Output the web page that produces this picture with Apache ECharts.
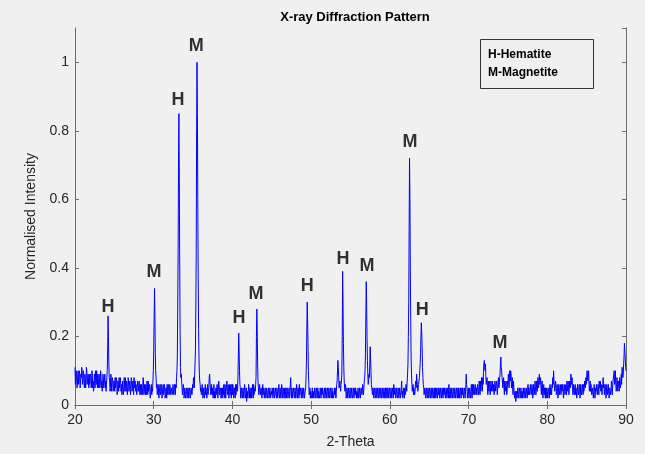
<!DOCTYPE html>
<html>
<head>
<meta charset="utf-8">
<script src="https://cdn.jsdelivr.net/npm/echarts@6/dist/echarts.min.js"></script>
<style>
  html, body { margin: 0; padding: 0; background: #f0f0f0; }
  #chart { width: 645px; height: 454px; }
</style>
</head>
<body>
<div id="chart"></div>
<script>
// scan start / step (degrees 2-theta)
const thetaStart = 20
const thetaStep = 0.1

// normalised intensity at x.0, x.1 ... x.9 (one row per degree)
const intensity = [
  0.11, 0.08, 0.09, 0.06, 0.10, 0.07, 0.09, 0.06, 0.08, 0.10, // 20
  0.07, 0.09, 0.05, 0.08, 0.07, 0.10, 0.06, 0.08, 0.09, 0.06, // 21
  0.08, 0.06, 0.09, 0.07, 0.05, 0.08, 0.10, 0.06, 0.07, 0.09, // 22
  0.05, 0.08, 0.06, 0.09, 0.07, 0.05, 0.08, 0.06, 0.09, 0.07, // 23
  0.06, 0.10, 0.26, 0.12, 0.07, 0.05, 0.08, 0.06, 0.07, 0.05, // 24
  0.06, 0.08, 0.05, 0.07, 0.04, 0.06, 0.08, 0.05, 0.07, 0.06, // 25
  0.04, 0.07, 0.05, 0.06, 0.08, 0.04, 0.06, 0.05, 0.07, 0.04, // 26
  0.06, 0.05, 0.07, 0.04, 0.06, 0.08, 0.05, 0.04, 0.06, 0.05, // 27
  0.07, 0.04, 0.05, 0.06, 0.03, 0.06, 0.05, 0.07, 0.04, 0.05, // 28
  0.06, 0.04, 0.05, 0.07, 0.04, 0.05, 0.03, 0.06, 0.05, 0.07, // 29
  0.16, 0.34, 0.15, 0.08, 0.06, 0.04, 0.05, 0.03, 0.06, 0.04, // 30
  0.05, 0.03, 0.06, 0.04, 0.05, 0.03, 0.04, 0.06, 0.03, 0.05, // 31
  0.04, 0.06, 0.03, 0.05, 0.04, 0.06, 0.04, 0.05, 0.06, 0.08, // 32
  0.14, 0.45, 0.85, 0.42, 0.11, 0.09, 0.05, 0.04, 0.05, 0.03, // 33
  0.04, 0.02, 0.05, 0.03, 0.04, 0.02, 0.04, 0.03, 0.05, 0.04, // 34
  0.05, 0.07, 0.09, 0.16, 0.45, 1.00, 0.60, 0.22, 0.09, 0.06, // 35
  0.05, 0.04, 0.06, 0.03, 0.05, 0.04, 0.03, 0.05, 0.04, 0.03, // 36
  0.05, 0.09, 0.05, 0.04, 0.03, 0.05, 0.04, 0.02, 0.04, 0.05, // 37
  0.03, 0.05, 0.04, 0.06, 0.03, 0.04, 0.05, 0.02, 0.04, 0.06, // 38
  0.03, 0.05, 0.04, 0.07, 0.03, 0.05, 0.04, 0.03, 0.06, 0.04, // 39
  0.03, 0.05, 0.03, 0.04, 0.06, 0.03, 0.05, 0.08, 0.21, 0.10, // 40
  0.05, 0.03, 0.04, 0.02, 0.05, 0.04, 0.06, 0.03, 0.01, 0.04, // 41
  0.03, 0.05, 0.04, 0.02, 0.05, 0.03, 0.04, 0.06, 0.03, 0.04, // 42
  0.08, 0.28, 0.12, 0.05, 0.04, 0.06, 0.03, 0.05, 0.04, 0.03, // 43
  0.04, 0.02, 0.05, 0.03, 0.04, 0.02, 0.05, 0.03, 0.04, 0.02, // 44
  0.03, 0.05, 0.02, 0.04, 0.03, 0.05, 0.02, 0.04, 0.03, 0.06, // 45
  0.02, 0.04, 0.03, 0.05, 0.02, 0.04, 0.03, 0.02, 0.05, 0.03, // 46
  0.04, 0.02, 0.05, 0.03, 0.08, 0.02, 0.04, 0.03, 0.05, 0.02, // 47
  0.04, 0.03, 0.05, 0.02, 0.04, 0.06, 0.03, 0.04, 0.02, 0.05, // 48
  0.03, 0.04, 0.02, 0.05, 0.12, 0.30, 0.18, 0.06, 0.04, 0.02, // 49
  0.04, 0.03, 0.02, 0.04, 0.03, 0.05, 0.02, 0.04, 0.03, 0.02, // 50
  0.04, 0.03, 0.05, 0.02, 0.03, 0.04, 0.02, 0.05, 0.03, 0.04, // 51
  0.02, 0.04, 0.03, 0.05, 0.02, 0.04, 0.03, 0.02, 0.04, 0.03, // 52
  0.03, 0.05, 0.04, 0.07, 0.13, 0.08, 0.06, 0.05, 0.06, 0.09, // 53
  0.39, 0.18, 0.07, 0.04, 0.05, 0.03, 0.04, 0.02, 0.05, 0.03, // 54
  0.04, 0.02, 0.05, 0.03, 0.04, 0.02, 0.03, 0.05, 0.04, 0.03, // 55
  0.05, 0.03, 0.04, 0.02, 0.05, 0.04, 0.06, 0.05, 0.08, 0.15, // 56
  0.36, 0.20, 0.09, 0.07, 0.08, 0.17, 0.10, 0.05, 0.03, 0.04, // 57
  0.02, 0.04, 0.03, 0.05, 0.02, 0.04, 0.03, 0.05, 0.02, 0.04, // 58
  0.03, 0.05, 0.02, 0.04, 0.03, 0.02, 0.05, 0.03, 0.04, 0.02, // 59
  0.04, 0.03, 0.05, 0.02, 0.04, 0.06, 0.03, 0.04, 0.02, 0.05, // 60
  0.03, 0.04, 0.02, 0.05, 0.03, 0.07, 0.04, 0.02, 0.04, 0.05, // 61
  0.04, 0.05, 0.07, 0.12, 0.30, 0.72, 0.40, 0.14, 0.06, 0.04, // 62
  0.03, 0.05, 0.04, 0.07, 0.09, 0.06, 0.05, 0.07, 0.10, 0.15, // 63
  0.24, 0.17, 0.08, 0.05, 0.03, 0.04, 0.02, 0.05, 0.03, 0.04, // 64
  0.02, 0.04, 0.03, 0.05, 0.02, 0.04, 0.03, 0.02, 0.05, 0.03, // 65
  0.04, 0.02, 0.03, 0.05, 0.02, 0.04, 0.03, 0.05, 0.02, 0.03, // 66
  0.04, 0.02, 0.05, 0.03, 0.04, 0.06, 0.02, 0.04, 0.03, 0.05, // 67
  0.02, 0.04, 0.03, 0.05, 0.02, 0.04, 0.03, 0.02, 0.04, 0.03, // 68
  0.04, 0.02, 0.03, 0.05, 0.02, 0.04, 0.03, 0.09, 0.05, 0.03, // 69
  0.04, 0.02, 0.05, 0.03, 0.04, 0.06, 0.03, 0.05, 0.04, 0.06, // 70
  0.05, 0.03, 0.06, 0.04, 0.05, 0.07, 0.05, 0.06, 0.08, 0.10, // 71
  0.13, 0.10, 0.08, 0.06, 0.05, 0.07, 0.04, 0.06, 0.05, 0.07, // 72
  0.05, 0.04, 0.06, 0.05, 0.07, 0.04, 0.06, 0.05, 0.08, 0.06, // 73
  0.09, 0.14, 0.10, 0.07, 0.06, 0.05, 0.07, 0.05, 0.06, 0.04, // 74
  0.06, 0.08, 0.10, 0.07, 0.09, 0.06, 0.05, 0.07, 0.04, 0.03, // 75
  0.01, 0.04, 0.03, 0.05, 0.02, 0.04, 0.03, 0.05, 0.04, 0.03, // 76
  0.05, 0.03, 0.04, 0.02, 0.05, 0.04, 0.03, 0.05, 0.04, 0.06, // 77
  0.04, 0.05, 0.03, 0.06, 0.05, 0.07, 0.04, 0.06, 0.08, 0.05, // 78
  0.09, 0.07, 0.05, 0.06, 0.04, 0.05, 0.03, 0.04, 0.05, 0.03, // 79
  0.04, 0.02, 0.05, 0.04, 0.03, 0.05, 0.06, 0.08, 0.10, 0.07, // 80
  0.05, 0.06, 0.04, 0.05, 0.03, 0.05, 0.04, 0.06, 0.05, 0.04, // 81
  0.05, 0.03, 0.06, 0.04, 0.05, 0.07, 0.04, 0.06, 0.05, 0.07, // 82
  0.09, 0.06, 0.05, 0.04, 0.06, 0.05, 0.03, 0.05, 0.04, 0.06, // 83
  0.04, 0.05, 0.03, 0.06, 0.04, 0.05, 0.06, 0.05, 0.07, 0.08, // 84
  0.08, 0.10, 0.08, 0.06, 0.05, 0.04, 0.06, 0.03, 0.05, 0.04, // 85
  0.05, 0.03, 0.04, 0.06, 0.04, 0.05, 0.07, 0.05, 0.04, 0.06, // 86
  0.05, 0.08, 0.06, 0.04, 0.05, 0.03, 0.05, 0.04, 0.06, 0.03, // 87
  0.05, 0.04, 0.06, 0.05, 0.07, 0.10, 0.08, 0.06, 0.05, 0.07, // 88
  0.04, 0.06, 0.08, 0.05, 0.09, 0.11, 0.08, 0.12, 0.18, 0.14, // 89
  0.10                                                        // 90
]

// normalised intensity at the half steps x.05, x.15 ... x.95
const intensityHalf = [
  0.06, 0.10, 0.05, 0.09, 0.06, 0.10, 0.05, 0.09, 0.11, 0.06, // 20
  0.10, 0.06, 0.09, 0.05, 0.11, 0.06, 0.09, 0.05, 0.06, 0.09, // 21
  0.05, 0.10, 0.05, 0.04, 0.09, 0.05, 0.07, 0.10, 0.05, 0.06, // 22
  0.09, 0.05, 0.10, 0.05, 0.04, 0.09, 0.05, 0.08, 0.05, 0.04, // 23
  0.08, 0.17, 0.20, 0.08, 0.04, 0.09, 0.04, 0.08, 0.04, 0.07, // 24
  0.04, 0.05, 0.08, 0.03, 0.07, 0.04, 0.05, 0.08, 0.04, 0.03, // 25
  0.07, 0.03, 0.08, 0.04, 0.05, 0.07, 0.03, 0.08, 0.04, 0.07, // 26
  0.03, 0.08, 0.04, 0.07, 0.03, 0.05, 0.07, 0.06, 0.03, 0.07, // 27
  0.04, 0.07, 0.03, 0.04, 0.06, 0.03, 0.08, 0.03, 0.06, 0.03, // 28
  0.03, 0.07, 0.03, 0.04, 0.06, 0.02, 0.05, 0.03, 0.04, 0.10, // 29
  0.25, 0.27, 0.10, 0.05, 0.03, 0.06, 0.02, 0.05, 0.03, 0.06, // 30
  0.02, 0.05, 0.03, 0.06, 0.02, 0.05, 0.02, 0.04, 0.06, 0.03, // 31
  0.06, 0.03, 0.05, 0.03, 0.06, 0.03, 0.06, 0.03, 0.05, 0.10, // 32
  0.28, 0.70, 0.68, 0.22, 0.08, 0.07, 0.03, 0.06, 0.02, 0.05, // 33
  0.02, 0.04, 0.02, 0.05, 0.02, 0.05, 0.02, 0.05, 0.03, 0.06, // 34
  0.08, 0.05, 0.12, 0.28, 0.80, 0.85, 0.38, 0.14, 0.07, 0.04, // 35
  0.03, 0.06, 0.02, 0.05, 0.02, 0.06, 0.05, 0.02, 0.06, 0.04, // 36
  0.08, 0.07, 0.03, 0.06, 0.05, 0.02, 0.06, 0.04, 0.02, 0.03, // 37
  0.06, 0.02, 0.07, 0.03, 0.05, 0.02, 0.03, 0.05, 0.03, 0.02, // 38
  0.06, 0.02, 0.06, 0.04, 0.06, 0.02, 0.06, 0.05, 0.02, 0.06, // 39
  0.06, 0.02, 0.05, 0.02, 0.03, 0.06, 0.04, 0.14, 0.16, 0.06, // 40
  0.02, 0.05, 0.02, 0.05, 0.02, 0.06, 0.02, 0.05, 0.03, 0.02, // 41
  0.06, 0.02, 0.05, 0.04, 0.02, 0.06, 0.02, 0.03, 0.05, 0.06, // 42
  0.20, 0.22, 0.07, 0.03, 0.06, 0.03, 0.05, 0.02, 0.06, 0.05, // 43
  0.02, 0.05, 0.02, 0.05, 0.02, 0.04, 0.02, 0.05, 0.02, 0.04, // 44
  0.05, 0.02, 0.05, 0.02, 0.05, 0.03, 0.05, 0.02, 0.05, 0.03, // 45
  0.05, 0.02, 0.06, 0.02, 0.05, 0.02, 0.05, 0.04, 0.02, 0.05, // 46
  0.02, 0.04, 0.02, 0.06, 0.04, 0.05, 0.02, 0.05, 0.03, 0.05, // 47
  0.02, 0.06, 0.02, 0.05, 0.02, 0.03, 0.05, 0.02, 0.05, 0.02, // 48
  0.05, 0.02, 0.04, 0.08, 0.22, 0.25, 0.10, 0.03, 0.05, 0.04, // 49
  0.02, 0.05, 0.04, 0.02, 0.05, 0.02, 0.05, 0.02, 0.05, 0.04, // 50
  0.02, 0.05, 0.02, 0.05, 0.05, 0.02, 0.04, 0.02, 0.05, 0.02, // 51
  0.05, 0.02, 0.05, 0.02, 0.05, 0.02, 0.05, 0.04, 0.02, 0.05, // 52
  0.05, 0.02, 0.06, 0.10, 0.11, 0.05, 0.07, 0.04, 0.07, 0.20, // 53
  0.30, 0.11, 0.05, 0.06, 0.02, 0.05, 0.02, 0.05, 0.02, 0.05, // 54
  0.02, 0.05, 0.02, 0.05, 0.02, 0.05, 0.05, 0.02, 0.02, 0.05, // 55
  0.02, 0.05, 0.02, 0.05, 0.03, 0.06, 0.03, 0.07, 0.10, 0.26, // 56
  0.30, 0.13, 0.06, 0.09, 0.12, 0.14, 0.06, 0.04, 0.05, 0.02, // 57
  0.05, 0.02, 0.05, 0.02, 0.05, 0.02, 0.05, 0.02, 0.05, 0.02, // 58
  0.05, 0.02, 0.05, 0.02, 0.05, 0.04, 0.02, 0.05, 0.02, 0.05, // 59
  0.02, 0.05, 0.02, 0.05, 0.02, 0.03, 0.05, 0.02, 0.05, 0.02, // 60
  0.05, 0.02, 0.05, 0.02, 0.05, 0.03, 0.02, 0.05, 0.02, 0.03, // 61
  0.06, 0.04, 0.09, 0.20, 0.52, 0.60, 0.25, 0.09, 0.04, 0.06, // 62
  0.05, 0.03, 0.06, 0.05, 0.07, 0.04, 0.06, 0.08, 0.12, 0.20, // 63
  0.21, 0.11, 0.06, 0.03, 0.05, 0.02, 0.05, 0.02, 0.05, 0.02, // 64
  0.05, 0.02, 0.05, 0.02, 0.05, 0.02, 0.05, 0.04, 0.02, 0.05, // 65
  0.02, 0.05, 0.05, 0.02, 0.05, 0.02, 0.05, 0.02, 0.05, 0.05, // 66
  0.02, 0.05, 0.02, 0.05, 0.02, 0.03, 0.05, 0.02, 0.05, 0.02, // 67
  0.05, 0.02, 0.05, 0.02, 0.05, 0.02, 0.05, 0.05, 0.02, 0.05, // 68
  0.02, 0.05, 0.05, 0.02, 0.05, 0.02, 0.06, 0.06, 0.02, 0.05, // 69
  0.02, 0.05, 0.02, 0.06, 0.02, 0.04, 0.06, 0.03, 0.06, 0.03, // 70
  0.03, 0.06, 0.03, 0.07, 0.03, 0.04, 0.08, 0.04, 0.06, 0.12, // 71
  0.11, 0.12, 0.06, 0.08, 0.03, 0.05, 0.07, 0.03, 0.07, 0.04, // 72
  0.07, 0.06, 0.03, 0.07, 0.04, 0.07, 0.03, 0.07, 0.05, 0.08, // 73
  0.12, 0.11, 0.08, 0.05, 0.08, 0.03, 0.04, 0.07, 0.03, 0.07, // 74
  0.09, 0.05, 0.08, 0.10, 0.05, 0.08, 0.03, 0.05, 0.02, 0.04, // 75
  0.03, 0.02, 0.05, 0.02, 0.05, 0.02, 0.05, 0.02, 0.02, 0.05, // 76
  0.02, 0.05, 0.02, 0.05, 0.02, 0.06, 0.05, 0.03, 0.06, 0.03, // 77
  0.06, 0.02, 0.06, 0.03, 0.07, 0.03, 0.07, 0.04, 0.06, 0.08, // 78
  0.06, 0.08, 0.03, 0.07, 0.02, 0.06, 0.05, 0.02, 0.02, 0.05, // 79
  0.02, 0.04, 0.02, 0.06, 0.05, 0.03, 0.05, 0.06, 0.07, 0.04, // 80
  0.07, 0.03, 0.06, 0.02, 0.06, 0.03, 0.06, 0.03, 0.06, 0.06, // 81
  0.02, 0.06, 0.03, 0.06, 0.03, 0.05, 0.07, 0.03, 0.07, 0.05, // 82
  0.07, 0.08, 0.03, 0.06, 0.03, 0.06, 0.05, 0.02, 0.06, 0.03, // 83
  0.06, 0.02, 0.06, 0.03, 0.06, 0.03, 0.04, 0.07, 0.05, 0.06, // 84
  0.10, 0.07, 0.10, 0.04, 0.07, 0.06, 0.03, 0.05, 0.02, 0.06, // 85
  0.02, 0.05, 0.06, 0.03, 0.06, 0.03, 0.05, 0.07, 0.06, 0.03, // 86
  0.06, 0.05, 0.03, 0.06, 0.02, 0.06, 0.03, 0.06, 0.02, 0.05, // 87
  0.03, 0.07, 0.03, 0.07, 0.09, 0.06, 0.10, 0.04, 0.08, 0.04, // 88
  0.07, 0.04, 0.06, 0.07, 0.06, 0.10, 0.09, 0.14, 0.16, 0.11  // 89
]

// peak annotations (phase letter, position of the letter)
const peakLabels = ['H', 'M', 'H', 'M', 'H', 'M', 'H', 'H', 'M', 'M', 'H', 'M']
const peakX = [24.2, 30.05, 33.1, 35.4, 40.85, 43.0, 49.5, 54.05, 57.1, 62.55, 64.1, 74.0]
const peakY = [0.286, 0.387, 0.89, 1.046, 0.254, 0.324, 0.347, 0.425, 0.405, 0.766, 0.277, 0.182]

const legendLines = ['H-Hematite', 'M-Magnetite']

const font = 'Liberation Sans, Arial, Helvetica, sans-serif'
const axisColor = '#6b6b6b'
const textColor = '#262626'

// merge full and half steps into one sorted [2theta, intensity] list
const lineData = []
intensity.forEach((v, i) => {
  const x = thetaStart + i * thetaStep
  lineData.push([+x.toFixed(2), v])
  if (i < intensityHalf.length) lineData.push([+(x + thetaStep / 2).toFixed(2), intensityHalf[i]])
})
const labelData = peakX.map((x, i) => ({ value: [x, peakY[i]], name: peakLabels[i] }))

const chart = echarts.init(document.getElementById('chart'))

const boxAxis = {
  axisLine: { show: true, lineStyle: { color: axisColor, width: 1 } },
  axisTick: { show: true, inside: true, length: 4, lineStyle: { color: axisColor } },
  splitLine: { show: false }
}

chart.setOption({
  backgroundColor: '#f0f0f0',
  animation: false,
  title: {
    text: 'X-ray Diffraction Pattern',
    left: 350,
    textAlign: 'center',
    top: 6,
    textStyle: { fontFamily: font, fontSize: 13, fontWeight: 'bold', color: '#000' }
  },
  grid: { left: 75, right: 19, top: 28, bottom: 46 },
  xAxis: [{
    type: 'value', min: 20, max: 90, interval: 10,
    ...boxAxis,
    name: '2-Theta', nameLocation: 'middle', nameGap: 30,
    nameTextStyle: { fontFamily: font, fontSize: 14, color: textColor },
    axisLabel: { fontFamily: font, fontSize: 14, color: textColor, margin: 8 }
  }, {
    type: 'value', min: 20, max: 90, interval: 10, position: 'top',
    ...boxAxis,
    axisLabel: { show: false }
  }],
  yAxis: [{
    type: 'value', min: 0, max: 1.1, interval: 0.2,
    ...boxAxis,
    name: 'Normalised Intensity', nameLocation: 'middle', nameGap: 33,
    nameTextStyle: { fontFamily: font, fontSize: 14, color: textColor },
    axisLabel: { fontFamily: font, fontSize: 14, color: textColor, margin: 6, showMaxLabel: false }
  }, {
    type: 'value', min: 0, max: 1.1, interval: 0.2, position: 'right',
    ...boxAxis,
    axisLabel: { show: false }
  }],
  graphic: [{
    type: 'rect',
    shape: { x: 480.5, y: 39.5, width: 113, height: 49 },
    style: { fill: '#f0f0f0', stroke: '#333', lineWidth: 1 },
    z: 10
  }, {
    type: 'text',
    left: 488, top: 46,
    style: {
      text: legendLines.join('\n'),
      fontFamily: font, fontSize: 12, fontWeight: 'bold', fill: '#000', lineHeight: 18
    },
    z: 11
  }],
  series: [{
    type: 'line',
    data: lineData,
    showSymbol: false,
    sampling: null,
    lineStyle: { color: '#0000ff', width: 1 },
    z: 2
  }, {
    type: 'scatter',
    data: labelData,
    symbolSize: 0,
    label: {
      show: true, position: 'inside', formatter: '{b}',
      fontFamily: font, fontSize: 18, fontWeight: 'bold', color: '#000'
    },
    z: 3
  }]
})
</script>
</body>
</html>
